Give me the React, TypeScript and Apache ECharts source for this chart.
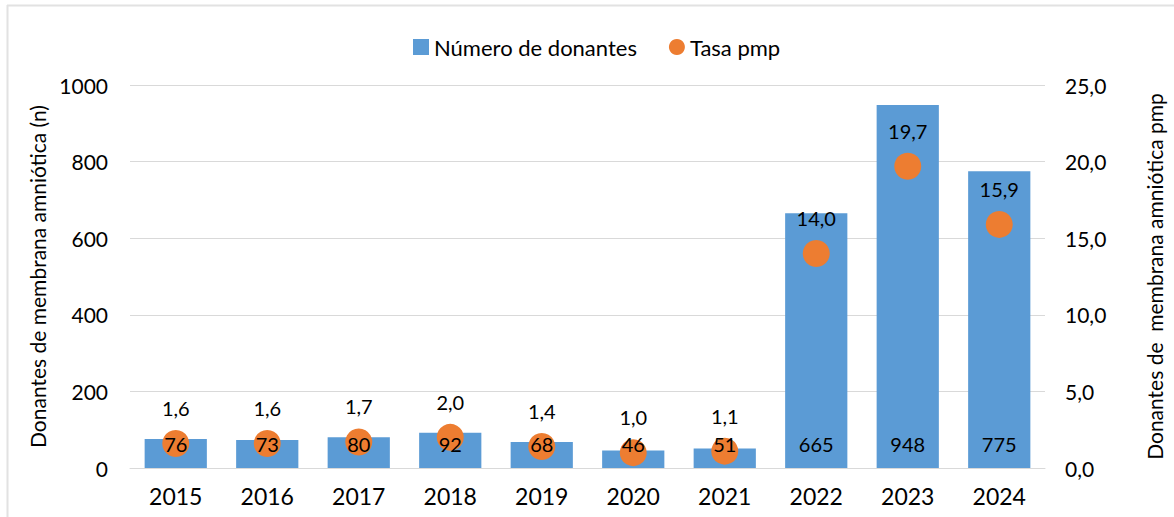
import React, { useEffect, useRef } from "react";
import * as echarts from "echarts";

const years = ["2015", "2016", "2017", "2018", "2019", "2020", "2021", "2022", "2023", "2024"];
const donantes = [76, 73, 80, 92, 68, 46, 51, 665, 948, 775];
const tasa = [1.6, 1.6, 1.7, 2.0, 1.4, 1.0, 1.1, 14.0, 19.7, 15.9];

const FONT = "Lato";

export default function App() {
  const ref = useRef<HTMLDivElement>(null);
  useEffect(() => {
    const chart = echarts.init(ref.current!, null, { renderer: "svg" });
    chart.setOption({
      animation: false,
      backgroundColor: "#fff",
      textStyle: { fontFamily: FONT, color: "#000" },
      graphic: [
        { type: "line", shape: { x1: 7, y1: 5.5, x2: 1174, y2: 5.5 }, style: { stroke: "#e2e2e2", lineWidth: 2 } },
        { type: "line", shape: { x1: 7.5, y1: 5, x2: 7.5, y2: 517 }, style: { stroke: "#e2e2e2", lineWidth: 2 } },
      ],
      legend: {
        top: 31,
        left: 408,
        itemGap: 32,
        itemWidth: 16,
        itemHeight: 16,
        textStyle: { fontSize: 22, fontFamily: FONT, color: "#000" },
        data: [
          { name: "Número de donantes", icon: "rect" },
          { name: "Tasa pmp", icon: "circle" },
        ],
      },
      grid: { left: 130, right: 129, top: 85, bottom: 49 },
      xAxis: {
        type: "category",
        data: years,
        axisLine: { show: true, lineStyle: { color: "#d9d9d9" } },
        axisTick: { show: false },
        axisLabel: { fontSize: 23, color: "#000", margin: 16, fontFamily: FONT },
      },
      yAxis: [
        {
          type: "value",
          min: 0,
          max: 1000,
          interval: 200,
          name: "Donantes de membrana amniótica (n)",
          nameLocation: "middle",
          nameGap: 80,
          nameRotate: 90,
          nameTextStyle: { fontSize: 21, color: "#000", fontFamily: FONT },
          axisLine: { show: false },
          axisTick: { show: false },
          axisLabel: {
            fontSize: 21,
            color: "#000",
            margin: 22,
            fontFamily: FONT,
            formatter: (v: number) => String(v),
          },
          splitLine: { lineStyle: { color: "#d9d9d9", width: 1 } },
        },
        {
          type: "value",
          min: 0,
          max: 25,
          interval: 5,
          position: "right",
          name: "Donantes de  membrana amniótica pmp",
          nameLocation: "middle",
          nameGap: 99,
          nameRotate: 90,
          nameTextStyle: { fontSize: 21, color: "#000", fontFamily: FONT },
          axisLine: { show: false },
          axisTick: { show: false },
          axisLabel: {
            fontSize: 21,
            color: "#000",
            margin: 20,
            fontFamily: FONT,
            formatter: (v: number) => v.toFixed(1).replace(".", ","),
          },
          splitLine: { show: false },
        },
      ],
      series: [
        {
          name: "Número de donantes",
          type: "bar",
          data: donantes,
          barWidth: "68%",
          itemStyle: { color: "#5B9BD5" },
          z: 2,
        },
        {
          name: "Tasa pmp",
          type: "scatter",
          yAxisIndex: 1,
          data: tasa,
          symbol: "circle",
          symbolSize: 27,
          itemStyle: { color: "#ED7D31", opacity: 1 },
          label: {
            show: true,
            position: "top",
            distance: 12,
            fontSize: 20,
            color: "#000",
            fontFamily: FONT,
            formatter: (p: any) => Number(p.value).toFixed(1).replace(".", ","),
          },
          z: 3,
        },
        {
          name: "labels",
          type: "bar",
          data: donantes,
          barWidth: "68%",
          barGap: "-100%",
          itemStyle: { color: "rgba(0,0,0,0)" },
          label: {
            show: true,
            position: "insideBottom",
            distance: 14,
            fontSize: 20,
            color: "#000",
            fontFamily: FONT,
          },
          silent: true,
          z: 5,
        },
      ],
    });
    return () => chart.dispose();
  }, []);
  return (
    <div
      ref={ref}
      style={{ position: "absolute", left: 0, top: 0, width: 1174, height: 517 }}
    />
  );
}
